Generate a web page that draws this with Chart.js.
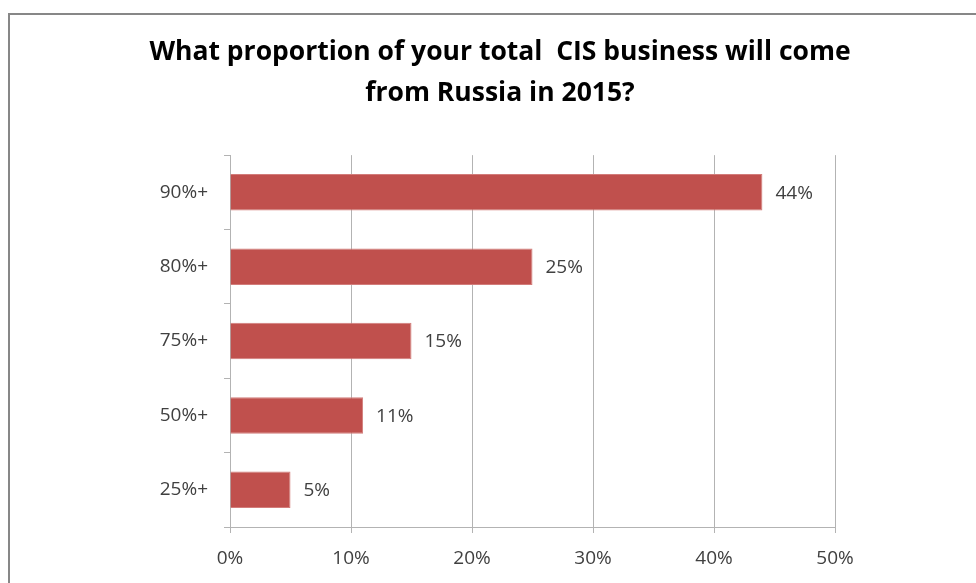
<!DOCTYPE html>
<html>
<head>
<meta charset="utf-8">
<script src="https://cdn.jsdelivr.net/npm/chart.js@4/dist/chart.umd.min.js"></script>
<style>
  html, body { margin: 0; padding: 0; background: #fff; overflow: hidden; }
  #frame {
    position: absolute; left: 8px; top: 13px; right: -10px; bottom: -10px;
    border-left: 2px solid #878787; border-top: 2px solid #878787;
  }
  #shareChart { position: absolute; left: 0; top: 0; }
</style>
</head>
<body>
<div id="frame"></div>
<canvas id="shareChart" width="976" height="583"></canvas>
<script>
const categories = ['90%+', '80%+', '75%+', '50%+', '25%+'];
const shares = [44, 25, 15, 11, 5];
const axisTicks = [0, 10, 20, 30, 40, 50];

const tickFont = { family: '"Open Sans", sans-serif', size: 19 };
const textColor = '#404040';
const lineColor = '#b3b3b3';

// writes the percentage just past the end of each bar
const barLabels = {
  id: 'barLabels',
  afterDatasetsDraw(chart) {
    const ctx = chart.ctx;
    const meta = chart.getDatasetMeta(0);
    ctx.save();
    ctx.font = tickFont.size + 'px ' + tickFont.family;
    ctx.fillStyle = textColor;
    ctx.textAlign = 'left';
    ctx.textBaseline = 'middle';
    meta.data.forEach((bar, i) => {
      ctx.fillText(shares[i] + '%', bar.x + 13, bar.y + 1);
    });
    ctx.restore();
  }
};

const ctx = document.getElementById('shareChart').getContext('2d');

const shareChart = new Chart(ctx, {
  type: 'bar',
  data: {
    labels: categories,
    datasets: [{
      data: shares,
      backgroundColor: '#c0504d',
      borderColor: '#d27c7a',
      borderWidth: 1,
      categoryPercentage: 1,
      barPercentage: 0.49
    }]
  },
  options: {
    indexAxis: 'y',
    responsive: false,
    maintainAspectRatio: false,
    animation: false,
    layout: { padding: { left: 24, right: 0, top: 13, bottom: 14 } },
    plugins: {
      legend: { display: false },
      tooltip: { enabled: false },
      title: {
        display: true,
        text: ['What proportion of your total  CIS business will come', 'from Russia in 2015?'],
        color: '#000',
        font: { family: '"Open Sans", sans-serif', size: 26.5, weight: 'bold', lineHeight: 1.55 },
        padding: { top: 18.5, bottom: 41.5 }
      }
    },
    scales: {
      x: {
        min: 0,
        max: 50,
        afterBuildTicks(axis) {
          axis.ticks = axisTicks.map(v => ({ value: v }));
        },
        afterFit(axis) { axis.height = 42; },
        grid: { color: lineColor, tickLength: 6 },
        border: { color: lineColor },
        ticks: {
          font: tickFont,
          color: textColor,
          padding: 14,
          callback: v => v + '%'
        }
      },
      y: {
        afterFit(axis) { axis.width = 206; },
        grid: { drawOnChartArea: false, color: lineColor, tickLength: 6 },
        border: { color: lineColor },
        ticks: { font: tickFont, color: textColor, padding: 16 }
      },
      // empty right-hand gutter
      yRight: {
        type: 'category',
        position: 'right',
        afterFit(axis) { axis.width = 141; },
        grid: { display: false },
        border: { display: false },
        ticks: { display: false }
      }
    }
  },
  plugins: [barLabels]
});
</script>
</body>
</html>
